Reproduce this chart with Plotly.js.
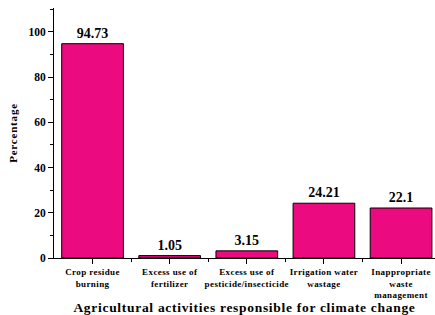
<!DOCTYPE html>
<html><head><meta charset="utf-8">
<script src="https://cdn.plot.ly/plotly-3.0.1.min.js"></script>
<style>
html,body{margin:0;padding:0;background:#fff}#chart{width:435px;height:315px}
.xtick text{letter-spacing:0.4px}
.g-xtitle text{letter-spacing:0.7px}
.g-ytitle text{letter-spacing:0.8px}
</style>
</head><body><div id="chart"></div>
<script>
const categories = ["Crop residue<br>burning", "Excess use of<br>fertilizer", "Excess use of<br>pesticide/insecticide", "Irrigation water<br>wastage", "Inappropriate<br>waste<br>management"];
const values = [94.73, 1.05, 3.15, 24.21, 22.1];
const labels = ["94.73", "1.05", "3.15", "24.21", "22.1"];
const yTicks = [0, 20, 40, 60, 80, 100];
const pos = categories.map((c, i) => i);
const font = "'Liberation Serif','Times New Roman',serif";
Plotly.newPlot('chart', [{
  type: 'bar', x: pos, y: values, text: labels, textposition: 'outside',
  textfont: {family: font, size: 14, color: '#000', weight: 'bold'},
  cliponaxis: false, width: 0.8,
  marker: {color: '#EC0A80', line: {color: '#000', width: 1}},
  hoverinfo: 'none'
}], {
  width: 435, height: 315,
  margin: {l: 54, r: 0, t: 8, b: 57},
  paper_bgcolor: '#fff', plot_bgcolor: '#fff',
  showlegend: false,
  xaxis: {
    range: [-0.5, 4.44], tickvals: pos, ticktext: categories,
    showline: true, linecolor: '#000', linewidth: 1, ticks: 'outside', ticklen: 5, tickcolor: '#000',
    minor: {tickvals: [0.5, 1.5, 2.5, 3.5], ticks: 'outside', ticklen: 3, tickcolor: '#000'},
    showgrid: false, zeroline: false,
    tickfont: {family: font, size: 9, color: '#000', weight: 'bold'},
    title: {text: 'Agricultural activities responsible for climate change', standoff: 3,
      font: {family: font, size: 13.5, color: '#000', weight: 'bold'}}
  },
  yaxis: {
    range: [0, 110.5], tickvals: yTicks,
    showline: true, linecolor: '#000', linewidth: 1, ticks: 'outside', ticklen: 5, tickcolor: '#000',
    minor: {dtick: 10, tick0: 0, ticks: 'outside', ticklen: 3, tickcolor: '#000'},
    showgrid: false, zeroline: false,
    tickfont: {family: font, size: 11.5, color: '#000', weight: 'bold'},
    title: {text: 'Percentage', standoff: 8, font: {family: font, size: 11, color: '#000', weight: 'bold'}}
  }
}, {staticPlot: true});
</script></body></html>
